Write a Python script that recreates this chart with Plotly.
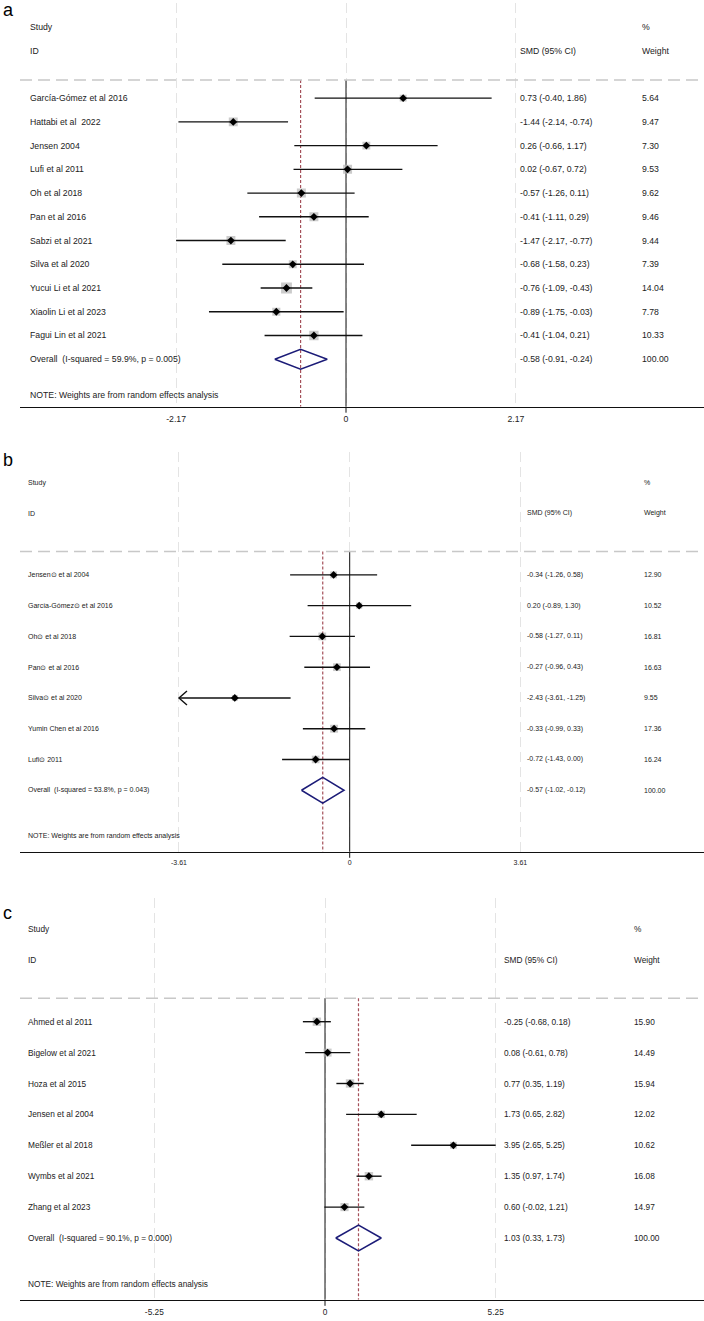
import math
import plotly.graph_objects as go

W, H = 704, 1321
FONT = "Liberation Sans, Arial, sans-serif"

# ---- panel a ----
a_studies = ["García-Gómez et al 2016", "Hattabi et al  2022", "Jensen 2004", "Lufi et al 2011",
             "Oh et al 2018", "Pan et al 2016", "Sabzi et al 2021", "Silva et al 2020",
             "Yucui Li et al 2021", "Xiaolin Li et al 2023", "Fagui Lin et al 2021"]
a_smd = [0.73, -1.44, 0.26, 0.02, -0.57, -0.41, -1.47, -0.68, -0.76, -0.89, -0.41]
a_lo = [-0.40, -2.14, -0.66, -0.67, -1.26, -1.11, -2.17, -1.58, -1.09, -1.75, -1.04]
a_hi = [1.86, -0.74, 1.17, 0.72, 0.11, 0.29, -0.77, 0.23, -0.43, -0.03, 0.21]
a_wt = [5.64, 9.47, 7.30, 9.53, 9.62, 9.46, 9.44, 7.39, 14.04, 7.78, 10.33]
a_arrow = [False] * 11
a_overall = [-0.58, -0.91, -0.24]
a_overall_txt = "Overall  (I-squared = 59.9%, p = 0.005)"
a_ticks = [-2.17, 0, 2.17]

# ---- panel b ----
b_studies = ["Jensen⊙ et al 2004", "García-Gómez⊙ et al 2016", "Oh⊙ et al 2018", "Pan⊙ et al 2016",
             "Silva⊙ et al 2020", "Yumin Chen et al 2016", "Lufi⊙ 2011"]
b_smd = [-0.34, 0.20, -0.58, -0.27, -2.43, -0.33, -0.72]
b_lo = [-1.26, -0.89, -1.27, -0.96, -3.61, -0.99, -1.43]
b_hi = [0.58, 1.30, 0.11, 0.43, -1.25, 0.33, 0.00]
b_wt = [12.90, 10.52, 16.81, 16.63, 9.55, 17.36, 16.24]
b_arrow = [False, False, False, False, True, False, False]
b_overall = [-0.57, -1.02, -0.12]
b_overall_txt = "Overall  (I-squared = 53.8%, p = 0.043)"
b_ticks = [-3.61, 0, 3.61]

# ---- panel c ----
c_studies = ["Ahmed et al 2011", "Bigelow et al 2021", "Hoza et al 2015", "Jensen et al 2004",
             "Meßler et al 2018", "Wymbs et al 2021", "Zhang et al 2023"]
c_smd = [-0.25, 0.08, 0.77, 1.73, 3.95, 1.35, 0.60]
c_lo = [-0.68, -0.61, 0.35, 0.65, 2.65, 0.97, -0.02]
c_hi = [0.18, 0.78, 1.19, 2.82, 5.25, 1.74, 1.21]
c_wt = [15.90, 14.49, 15.94, 12.02, 10.62, 16.08, 14.97]
c_arrow = [False] * 7
c_overall = [1.03, 0.33, 1.73]
c_overall_txt = "Overall  (I-squared = 90.1%, p = 0.000)"
c_ticks = [-5.25, 0, 5.25]

note_txt = "NOTE: Weights are from random effects analysis"

fig = go.Figure()


def add_panel(n, letter, studies, est, lo, hi, wt, arrow, ov, ov_txt, ticks,
              top_px, bottom_px, zero_px, unit_px, box_k, fs, x_txt, x_smd, x_wt, letter_px):
    sfx = "" if n == 1 else str(n)
    xa, ya = "x" + sfx, "y" + sfx
    rows = list(range(1, len(studies) + 1))
    ov_row = len(studies) + 1
    last_row = ov_row + 2
    spacing = (bottom_px - top_px) / (last_row + 3)
    line_y = 0.24

    # reference lines (null and pooled estimate)
    fig.add_trace(go.Scatter(x=[0, 0], y=[line_y, last_row], mode="lines",
                             line=dict(color="#111111", width=1), xaxis=xa, yaxis=ya))
    fig.add_trace(go.Scatter(x=[ov[0], ov[0]], y=[line_y, last_row], mode="lines",
                             line=dict(color="#a4505a", width=1.2, dash="3px,2px"),
                             xaxis=xa, yaxis=ya))
    # weight boxes
    fig.add_trace(go.Scatter(x=est, y=rows, mode="markers",
                             marker=dict(symbol="square", color="#b5b5b5",
                                         size=[box_k * math.sqrt(v) for v in wt], line_width=0),
                             xaxis=xa, yaxis=ya))
    # confidence intervals, open arrow where the CI runs off the scale
    xs, ys = [], []
    dx = 8 / unit_px
    dy = 7 / spacing
    for r, l, h, ar in zip(rows, lo, hi, arrow):
        xs += [l, h, None]
        ys += [r, r, None]
        if ar:
            xs += [l + dx, l, l + dx, None]
            ys += [r - dy, r, r + dy, None]
    fig.add_trace(go.Scatter(x=xs, y=ys, mode="lines", line=dict(color="#111111", width=1.4),
                             xaxis=xa, yaxis=ya))
    # point estimates
    fig.add_trace(go.Scatter(x=est, y=rows, mode="markers",
                             marker=dict(symbol="diamond", color="#000000", size=6),
                             xaxis=xa, yaxis=ya))
    # overall diamond
    hd = 0.42
    fig.add_trace(go.Scatter(x=[ov[1], ov[0], ov[2], ov[0], ov[1]],
                             y=[ov_row, ov_row - hd, ov_row, ov_row + hd, ov_row],
                             mode="lines", line=dict(color="#1c1c78", width=1.5),
                             xaxis=xa, yaxis=ya))

    fig.add_shape(type="line", xref=xa + " domain", yref=ya, x0=0, x1=1, y0=line_y, y1=line_y,
                  line=dict(color="#c8c8c8", width=1.5, dash="12px,6px"))
    # small tick under the null line
    tick_len = 6 / (bottom_px - top_px)
    fig.add_shape(type="line", xref=xa, yref=ya + " domain", x0=0, x1=0, y0=-tick_len, y1=0,
                  line=dict(color="#111111", width=1))

    def txt(x, y, s):
        fig.add_annotation(xref="paper", yref=ya, x=x / W, y=y, text=s, showarrow=False,
                           xanchor="left", yanchor="middle",
                           font=dict(family=FONT, size=fs, color="#222222"))

    txt(x_txt, -2, "Study")
    txt(x_txt, -1, "ID")
    txt(x_smd, -1, "SMD (95% CI)")
    txt(x_wt, -2, "%")
    txt(x_wt, -1, "Weight")
    for r, s, e, l, h, w in zip(rows, studies, est, lo, hi, wt):
        txt(x_txt, r, s)
        txt(x_smd, r, f"{e:.2f} ({l:.2f}, {h:.2f})")
        txt(x_wt, r, f"{w:.2f}")
    txt(x_txt, ov_row, ov_txt)
    txt(x_smd, ov_row, f"{ov[0]:.2f} ({ov[1]:.2f}, {ov[2]:.2f})")
    txt(x_wt, ov_row, "100.00")
    txt(x_txt, ov_row + 1.5, note_txt)

    fig.add_annotation(xref="paper", yref="paper", x=1 / W, y=1 - letter_px / H, text=letter,
                       showarrow=False, xanchor="left", yanchor="middle",
                       font=dict(family=FONT, size=18, color="#000000"))

    fig.update_layout(**{
        "xaxis" + sfx: dict(domain=[20 / W, 1], range=[(20 - zero_px) / unit_px, (W - zero_px) / unit_px],
                            anchor=ya, tickvals=ticks,
                            ticktext=[f"{t:.2f}" if t else "0" for t in ticks],
                            tickfont=dict(family=FONT, size=fs, color="#222222"),
                            ticks="", ticklabelstandoff=4,
                            showgrid=True, gridcolor="#e4e4e4", griddash="10px,5px", gridwidth=1,
                            zeroline=False, showline=True, linecolor="#111111", linewidth=1),
        "yaxis" + sfx: dict(domain=[1 - bottom_px / H, 1 - top_px / H], range=[last_row, -3],
                            anchor=xa, showgrid=False, zeroline=False, showline=False,
                            showticklabels=False),
    })


add_panel(1, "a", a_studies, a_smd, a_lo, a_hi, a_wt, a_arrow, a_overall, a_overall_txt, a_ticks,
          top_px=3.2, bottom_px=406.7, zero_px=346, unit_px=78.3, box_k=2.9, fs=8.7,
          x_txt=28, x_smd=518, x_wt=640, letter_px=10)
add_panel(2, "b", b_studies, b_smd, b_lo, b_hi, b_wt, b_arrow, b_overall, b_overall_txt, b_ticks,
          top_px=451.8, bottom_px=851.8, zero_px=349.7, unit_px=47.29, box_k=1.9, fs=7,
          x_txt=26, x_smd=525, x_wt=642, letter_px=460)
add_panel(3, "c", c_studies, c_smd, c_lo, c_hi, c_wt, c_arrow, c_overall, c_overall_txt, c_ticks,
          top_px=898.1, bottom_px=1299.8, zero_px=325, unit_px=32.51, box_k=2.1, fs=8.3,
          x_txt=26, x_smd=502, x_wt=632, letter_px=913)

fig.update_layout(width=W, height=H, margin=dict(l=0, r=0, t=0, b=0),
                  paper_bgcolor="white", plot_bgcolor="white", showlegend=False,
                  hovermode=False)
# drop the browser's default body margin so the figure sits at the page origin
fig.write_html("out.html", config={"displayModeBar": False},
               post_script="document.body.style.margin='0';")
